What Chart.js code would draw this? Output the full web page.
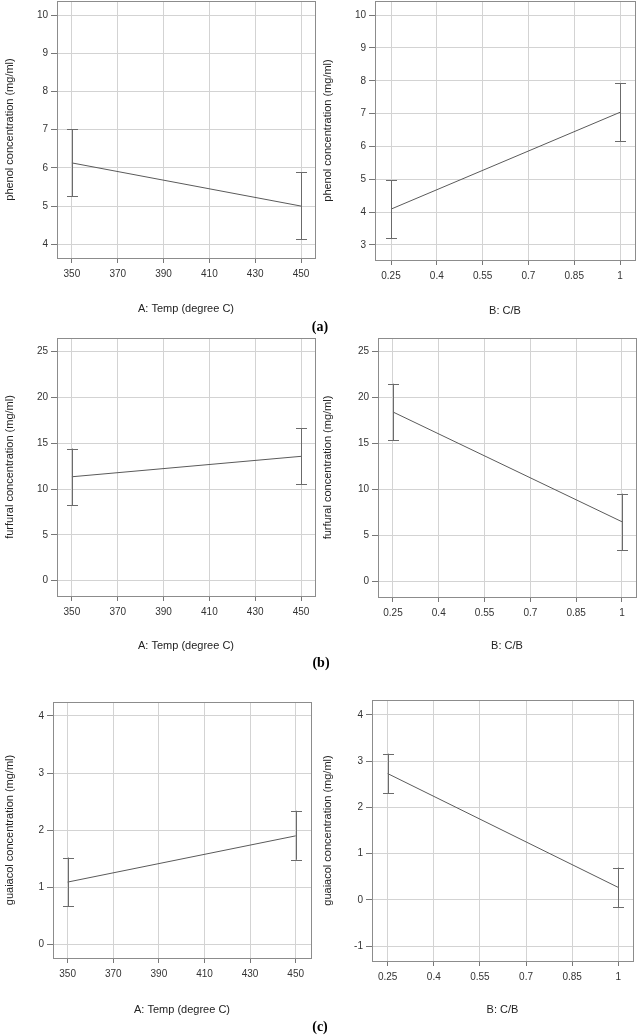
<!DOCTYPE html>
<html>
<head>
<meta charset="utf-8">
<script src="https://cdn.jsdelivr.net/npm/chart.js@4.4.0/dist/chart.umd.min.js"></script>
<style>
  body { margin: 0; background: #fff; }
  #page { position: relative; width: 638px; height: 1035px; }
  .panel { position: absolute; }
  .tag { position: absolute; font: bold 14px "Liberation Serif", "Times New Roman", serif; color: #000; transform: translate(-50%, -50%); }
</style>
</head>
<body>
<div id="page">
  <div class="panel" style="left:0;top:0;width:320px;height:320px"><canvas id="c1"></canvas></div>
  <div class="panel" style="left:318px;top:0;width:320px;height:320px"><canvas id="c2"></canvas></div>
  <div class="panel" style="left:0;top:335px;width:320px;height:320px"><canvas id="c3"></canvas></div>
  <div class="panel" style="left:318px;top:335px;width:320px;height:320px"><canvas id="c4"></canvas></div>
  <div class="panel" style="left:0;top:680px;width:320px;height:340px"><canvas id="c5"></canvas></div>
  <div class="panel" style="left:318px;top:680px;width:320px;height:340px"><canvas id="c6"></canvas></div>
  <div class="tag" style="left:320px;top:327px">(a)</div>
  <div class="tag" style="left:321px;top:663px">(b)</div>
  <div class="tag" style="left:320px;top:1027px">(c)</div>
</div>
<script>
// factor levels
const tempLevels = [350, 450];
const cbLevels = [0.25, 1];

// x tick labels
const tempTicks = [350, 370, 390, 410, 430, 450];
const cbTicks = [0.25, 0.4, 0.55, 0.7, 0.85, 1];

// phenol (mg/ml)
const phenolTemp = [6.13, 5.0];
const phenolTempLow = [5.26, 4.13];
const phenolTempHigh = [7.01, 5.88];
const phenolCB = [4.09, 7.04];
const phenolCBLow = [3.21, 6.16];
const phenolCBHigh = [4.97, 7.92];

// furfural (mg/ml)
const furfuralTemp = [11.35, 13.58];
const furfuralTempLow = [8.26, 10.52];
const furfuralTempHigh = [14.43, 16.67];
const furfuralCB = [18.45, 6.52];
const furfuralCBLow = [15.37, 3.45];
const furfuralCBHigh = [21.52, 9.57];

// guaiacol (mg/ml)
const guaiacolTemp = [1.09, 1.9];
const guaiacolTempLow = [0.67, 1.48];
const guaiacolTempHigh = [1.52, 2.34];
const guaiacolCB = [2.73, 0.27];
const guaiacolCBLow = [2.31, -0.16];
const guaiacolCBHigh = [3.16, 0.7];

// y tick labels
const phenolTicksTemp = [4, 5, 6, 7, 8, 9, 10];
const phenolTicksCB = [3, 4, 5, 6, 7, 8, 9, 10];
const furfuralTicks = [0, 5, 10, 15, 20, 25];
const guaiacolTicksTemp = [0, 1, 2, 3, 4];
const guaiacolTicksCB = [-1, 0, 1, 2, 3, 4];

const tempTitle = 'A: Temp (degree C)';
const cbTitle = 'B: C/B';

const FONT = '"Liberation Sans", Arial, sans-serif';

// error bars + frame around plot area
const errorBars = {
    id: 'errorBars',
    afterDatasetsDraw(chart, args, opts) {
        const { ctx, scales } = chart;
        const data = chart.data.datasets[0].data;
        ctx.save();
        ctx.strokeStyle = '#6b6b6b';
        ctx.lineWidth = 1;
        data.forEach((p, i) => {
            const x = Math.round(scales.x.getPixelForValue(p.x)) + 0.5;
            const y1 = scales.y.getPixelForValue(opts.low[i]);
            const y2 = scales.y.getPixelForValue(opts.high[i]);
            ctx.beginPath();
            ctx.moveTo(x, y1); ctx.lineTo(x, y2);
            ctx.moveTo(x - 5.5, Math.round(y1) + 0.5); ctx.lineTo(x + 5.5, Math.round(y1) + 0.5);
            ctx.moveTo(x - 5.5, Math.round(y2) + 0.5); ctx.lineTo(x + 5.5, Math.round(y2) + 0.5);
            ctx.stroke();
        });
        const a = chart.chartArea;
        ctx.strokeStyle = '#8c8c8c';
        ctx.strokeRect(Math.round(a.left) + 0.5, Math.round(a.top) + 0.5,
            Math.round(a.right - a.left), Math.round(a.bottom - a.top));
        ctx.restore();
    }
};

function makePanel(id, xs, ys, low, high, xTicks, yTicks, xTitle, yTitle, box) {
    const ctx = document.getElementById(id).getContext('2d');
    return new Chart(ctx, {
        type: 'line',
        data: {
            datasets: [{
                data: xs.map((x, i) => ({ x: x, y: ys[i] })),
                borderColor: '#5a5a5a',
                borderWidth: 1,
                pointRadius: 0,
                tension: 0
            }]
        },
        plugins: [errorBars],
        options: {
            responsive: true,
            maintainAspectRatio: false,
            animation: false,
            layout: {
                padding: { left: 0, top: box.top, right: box.w - box.right, bottom: 0 }
            },
            plugins: {
                legend: { display: false },
                tooltip: { enabled: false },
                errorBars: { low: low, high: high }
            },
            scales: {
                x: {
                    type: 'linear',
                    min: box.xMin,
                    max: box.xMax,
                    afterBuildTicks: (s) => { s.ticks = xTicks.map(v => ({ value: v })); },
                    afterFit: (s) => { s.height = box.h - box.bottom; s.paddingLeft = 0; s.paddingRight = 0; },
                    grid: { color: '#d3d3d3', tickColor: '#777', tickLength: 5 },
                    border: { display: false },
                    ticks: {
                        color: '#333', padding: 5, maxRotation: 0, autoSkip: false,
                        font: { family: FONT, size: 10 },
                        callback: (v) => String(v)
                    },
                    title: {
                        display: true, text: xTitle, color: '#222',
                        font: { family: FONT, size: 11 },
                        padding: { top: 0, bottom: box.xTitleB }
                    }
                },
                y: {
                    type: 'linear',
                    min: box.yMin,
                    max: box.yMax,
                    afterBuildTicks: (s) => { s.ticks = yTicks.map(v => ({ value: v })); },
                    afterFit: (s) => { s.width = box.left; s.paddingTop = 0; s.paddingBottom = 0; },
                    grid: { color: '#d3d3d3', tickColor: '#777', tickLength: 6 },
                    border: { display: false },
                    ticks: {
                        color: '#333', padding: 3, autoSkip: false,
                        font: { family: FONT, size: 10 },
                        callback: (v) => String(v)
                    },
                    title: {
                        display: true, text: yTitle, color: '#222',
                        font: { family: FONT, size: 11 },
                        padding: { top: 3, bottom: 0 }
                    }
                }
            }
        }
    });
}

makePanel('c1', tempLevels, phenolTemp, phenolTempLow, phenolTempHigh, tempTicks, phenolTicksTemp,
    tempTitle, 'phenol concentration (mg/ml)',
    { w: 320, h: 320, left: 57, top: 1, right: 315, bottom: 258, xMin: 343.5, xMax: 456.1, yMin: 3.64, yMax: 10.37, xTitleB: 4 });
makePanel('c2', cbLevels, phenolCB, phenolCBLow, phenolCBHigh, cbTicks, phenolTicksCB,
    cbTitle, 'phenol concentration (mg/ml)',
    { w: 320, h: 320, left: 57, top: 1, right: 317, bottom: 260, xMin: 0.1976, xMax: 1.049, yMin: 2.54, yMax: 10.43, xTitleB: 2 });
makePanel('c3', tempLevels, furfuralTemp, furfuralTempLow, furfuralTempHigh, tempTicks, furfuralTicks,
    tempTitle, 'furfural concentration (mg/ml)',
    { w: 320, h: 320, left: 57, top: 3, right: 315, bottom: 261, xMin: 343.5, xMax: 456.1, yMin: -1.67, yMax: 26.5, xTitleB: 2 });
makePanel('c4', cbLevels, furfuralCB, furfuralCBLow, furfuralCBHigh, cbTicks, furfuralTicks,
    cbTitle, 'furfural concentration (mg/ml)',
    { w: 320, h: 320, left: 60, top: 3, right: 318, bottom: 262, xMin: 0.201, xMax: 1.046, yMin: -1.66, yMax: 26.49, xTitleB: 2 });
makePanel('c5', tempLevels, guaiacolTemp, guaiacolTempLow, guaiacolTempHigh, tempTicks, guaiacolTicksTemp,
    tempTitle, 'guaiacol concentration (mg/ml)',
    { w: 320, h: 340, left: 53, top: 22, right: 311, bottom: 278, xMin: 343.6, xMax: 456.7, yMin: -0.24, yMax: 4.245, xTitleB: 3 });
makePanel('c6', cbLevels, guaiacolCB, guaiacolCBLow, guaiacolCBHigh, cbTicks, guaiacolTicksCB,
    cbTitle, 'guaiacol concentration (mg/ml)',
    { w: 320, h: 340, left: 54, top: 20, right: 315, bottom: 281, xMin: 0.199, xMax: 1.048, yMin: -1.32, yMax: 4.32, xTitleB: 3 });
</script>
</body>
</html>
